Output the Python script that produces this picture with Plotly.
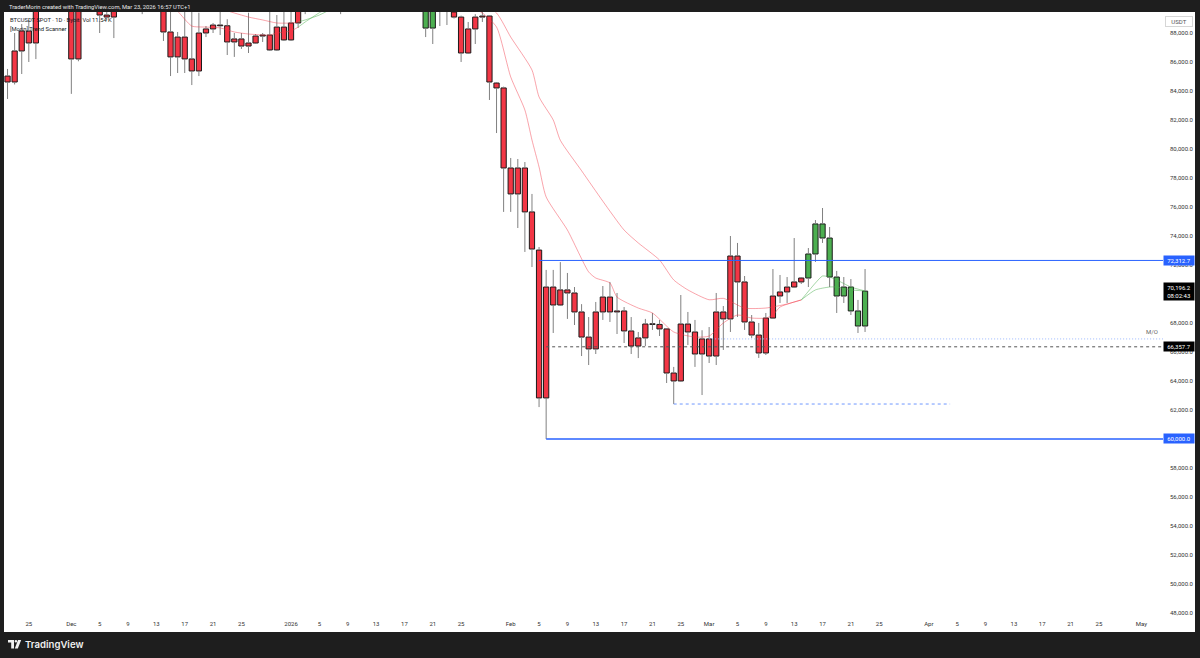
import plotly.graph_objects as go
import pandas as pd

# ---------------- data ----------------
dates = pd.date_range("2025-11-22", "2026-03-23", freq="D").strftime("%Y-%m-%d").tolist()

open_ = [85030, 84620, 86760, 88140, 87310, 90500, 91300, 90900, 90400,
         90400, 86210, 91300, 93400, 92100, 89240, 89100, 90400, 90600, 92700, 92000, 92500, 90300, 90300, 88070,
         86350, 87720, 86210, 85380, 88000, 88280, 88550, 88500, 87380, 87590, 87100, 87310, 87790, 87860, 86830, 88410,
         87520, 88690, 90000, 90600, 91500, 93900, 93700, 91000, 90950, 90500, 90600, 90900, 91100, 95400, 97000, 95600,
         95500, 95100, 93600, 92600, 88340, 89600, 89500, 89450, 89100, 86620, 88280, 89100, 89170, 84550, 84210,
         78690, 76900, 78690, 75660, 73030, 62830, 70480, 69240, 70280, 70070, 68760, 67030, 66210, 68760, 69790, 68760,
         68830, 67450, 66410, 66970, 67930, 67900, 67590, 64550, 64000, 67930, 67380, 65860,
         66900, 65720, 68760, 68280, 72620, 70830, 68070, 67170, 65930, 68340, 69860, 70140, 70480, 70830, 71100, 72760,
         74830, 73860, 71170, 69860, 70480, 68830, 67790]
high = [85520, 88000, 88620, 88900, 90600, 91900, 92900, 91200, 92000,
        90400, 92300, 94100, 94000, 92700, 90300, 91800, 92300, 94600, 94500, 93500, 92700, 90600, 90500, 90000,
        88070, 90400, 89500, 89400, 88480, 88690, 90600, 88950, 88000, 88000, 89400, 87930, 88000, 90300, 89240, 89500,
        89600, 90900, 90700, 91700, 94800, 94400, 93700, 91500, 91900, 90800, 91200, 92400, 96200, 97900, 97200, 95800,
        95600, 95500, 93600, 92800, 90400, 90300, 91100, 89800, 89200, 88760, 89300, 90600, 89200, 84620, 84300,
        79380, 79310, 79100, 76900, 73240, 71660, 71660, 72200, 71450, 70480, 69300, 68410, 69450, 70550, 70830, 70070,
        69100, 68410, 67380, 68280, 68690, 68210, 67600, 64970, 69930, 68760, 68210, 67500,
        67720, 70070, 69170, 74000, 73520, 71240, 68550, 68000, 68690, 71720, 71310, 71170, 73860, 71170, 73170, 75100,
        75930, 74620, 71590, 71170, 71030, 69590, 71720]
low = [83450, 84450, 85170, 86000, 86200, 90100, 90200, 90200, 90300,
       83800, 86050, 91000, 91800, 88000, 88900, 87650, 89600, 89600, 91600, 89300, 89600, 89800, 87450, 85030,
       85240, 85240, 84410, 85030, 87720, 88000, 87860, 86480, 86350, 86900, 86620, 87240, 87380, 86760, 86760, 87450,
       87450, 88350, 89300, 90500, 91400, 91300, 90800, 89300, 89600, 90200, 90200, 90000, 90900, 94800, 95100, 94300,
       94900, 93600, 91900, 87720, 87240, 88480, 88550, 89000, 86000, 86550, 87240, 88760, 83380, 81100, 75660,
       75660, 74550, 72900, 71860, 62200, 60000, 67310, 69170, 68280, 67860, 65720, 65100, 65860, 68210, 68070, 67240,
       66620, 65860, 65580, 66410, 67520, 67100, 63860, 62410, 63930, 66480, 64970, 63030,
       65240, 65100, 66140, 67380, 68410, 67520, 66970, 65590, 65790, 68340, 69380, 69380, 70410, 70690, 70480, 72210,
       73520, 70480, 68690, 69380, 68550, 67310, 67380]
close = [84620, 86760, 88140, 87310, 90500, 91300, 90900, 90400, 90400,
         86210, 91300, 93400, 92100, 89240, 89100, 90400, 90600, 92700, 92000, 92500, 90300, 90300, 88070, 86350,
         87720, 86210, 85380, 88000, 88280, 88550, 88500, 87380, 87590, 87100, 87310, 87790, 87860, 86830, 88410, 87520,
         88690, 90000, 90600, 91500, 93900, 93700, 91000, 90950, 90500, 90600, 90900, 91100, 95400, 97000, 95600, 95500,
         95100, 93600, 92600, 88340, 89600, 89500, 89550, 89100, 86620, 88280, 89100, 89170, 84620, 84210, 78690,
         76900, 78690, 75660, 73100, 62830, 70480, 69240, 70280, 70070, 68760, 67030, 66210, 68760, 69790, 68760, 68830,
         67450, 66410, 66970, 67930, 67900, 67590, 64550, 64000, 67930, 67380, 65860, 66900,
         65720, 68760, 68280, 72620, 70830, 68070, 67170, 65930, 68340, 69860, 70140, 70480, 70830, 71100, 72760, 74830,
         73860, 71170, 69860, 70480, 68830, 67790, 70196.2]
trend = ["r"] * 42 + ["g"] * 21 + ["r"] * 50 + ["g"] * 9

# trend-scanner moving averages
fast_red1_d = ["2025-12-14", "2025-12-16", "2025-12-18", "2025-12-20", "2025-12-22", "2025-12-24", "2025-12-26",
               "2025-12-29", "2025-12-30", "2026-01-01", "2026-01-02"]
fast_red1_v = [90300, 89500, 88480, 88410, 88350, 88070, 87930, 87860, 88000, 88140, 88400]
fast_grn1_d = ["2026-01-02", "2026-01-03", "2026-01-05", "2026-01-08", "2026-01-14", "2026-01-20", "2026-01-24"]
fast_grn1_v = [88400, 88760, 89400, 90300, 93500, 92500, 90500]
fast_red2_d = ["2026-01-24", "2026-01-28", "2026-01-30", "2026-02-01", "2026-02-03", "2026-02-04", "2026-02-05",
               "2026-02-06", "2026-02-09", "2026-02-12", "2026-02-13", "2026-02-15", "2026-02-16", "2026-02-19",
               "2026-02-21", "2026-02-24", "2026-02-27", "2026-03-01", "2026-03-03", "2026-03-05", "2026-03-07",
               "2026-03-09", "2026-03-10", "2026-03-11", "2026-03-14"]
fast_red2_v = [90500, 89380, 88410, 84970, 82690, 80620, 78760, 76690, 74410, 71520, 71100, 70760, 69790, 69030,
               68690, 67380, 67030, 67100, 68000, 68550, 68340, 68340, 68550, 69100, 69590]
fast_grn2_d = ["2026-03-14", "2026-03-16", "2026-03-17", "2026-03-18", "2026-03-19", "2026-03-21", "2026-03-23"]
fast_grn2_v = [69590, 70760, 71240, 71170, 70970, 70480, 70210]

slow_red1_d = ["2025-12-20", "2025-12-24", "2025-12-26", "2025-12-28", "2025-12-30", "2026-01-01", "2026-01-02"]
slow_red1_v = [90000, 89380, 89100, 88900, 88690, 88690, 88760]
slow_grn1_d = ["2026-01-02", "2026-01-03", "2026-01-05", "2026-01-10", "2026-01-18", "2026-01-24"]
slow_grn1_v = [88760, 88900, 89240, 90500, 92500, 91500]
slow_red2_d = ["2026-01-24", "2026-01-30", "2026-02-01", "2026-02-04", "2026-02-05", "2026-02-07", "2026-02-08",
               "2026-02-11", "2026-02-14", "2026-02-17", "2026-02-19", "2026-02-22", "2026-02-24", "2026-02-26",
               "2026-03-01", "2026-03-03", "2026-03-06", "2026-03-09", "2026-03-12", "2026-03-14"]
slow_red2_v = [91500, 89380, 87720, 85450, 83590, 82000, 80600, 78500, 76400, 74410, 73520, 72340, 70970, 70280,
               69600, 69700, 69030, 69030, 69310, 69590]
slow_grn2_d = ["2026-03-14", "2026-03-16", "2026-03-18", "2026-03-19", "2026-03-21", "2026-03-23"]
slow_grn2_v = [69590, 70280, 70480, 70480, 70280, 70210]

# horizontal levels: (value, start date, end date)
level_names = ["res", "close_d", "mo", "low_feb24", "low_feb6"]
level_values = [72312.7, 66357.7, 66900, 62410, 60000]
level_start = ["2026-02-05", "2026-02-06", "2026-03-01", "2026-02-24", "2026-02-06"]
level_end = ["2026-06-01", "2026-06-01", "2026-06-01", "2026-04-04", "2026-06-01"]

# price-scale ticks (60,000 and 70,000 are covered by the badges)
ytick_vals = [48000, 50000, 52000, 54000, 56000, 58000, 62000, 64000, 66000, 68000, 72000, 74000, 76000,
              78000, 80000, 82000, 84000, 86000, 88000]

xtick_dates = ["2025-11-25", "2025-12-01", "2025-12-05", "2025-12-09", "2025-12-13", "2025-12-17", "2025-12-21",
               "2025-12-25", "2026-01-01", "2026-01-05", "2026-01-09", "2026-01-13", "2026-01-17", "2026-01-21",
               "2026-01-25", "2026-02-01", "2026-02-05", "2026-02-09", "2026-02-13", "2026-02-17", "2026-02-21",
               "2026-02-25", "2026-03-01", "2026-03-05", "2026-03-09", "2026-03-13", "2026-03-17", "2026-03-21",
               "2026-03-25", "2026-04-01", "2026-04-05", "2026-04-09", "2026-04-13", "2026-04-17", "2026-04-21",
               "2026-04-25", "2026-05-01"]
xtick_text = ["25", "Dec", "5", "9", "13", "17", "21", "25", "2026", "5", "9", "13", "17", "21", "25", "Feb", "5",
              "9", "13", "17", "21", "25", "Mar", "5", "9", "13", "17", "21", "25", "Apr", "5", "9", "13", "17",
              "21", "25", "May"]

# ---------------- styling / layout helpers ----------------
W, H = 1200, 658
PX_L, PX_R, PY_T, PY_B = 4, 1163, 12, 614
def px(x): return (x - PX_L) / (PX_R - PX_L)
def py(y): return (PY_B - y) / (PY_B - PY_T)

DARK = "#1e1e1e"
RED = "#f23645"
GREEN = "#4caf50"
EDGE = "#1b1b1b"
WICK = "#808080"
BLUE = "#2962ff"
DAY_MS = 86400000

fig = go.Figure()

# wicks (split above/below body so they don't cross the body)
wx, wy = [], []
for d, o, h, l, c in zip(dates, open_, high, low, close):
    top, bot = max(o, c), min(o, c)
    wx += [d, d, None, d, d, None]
    wy += [top, h, None, l, bot, None]
fig.add_trace(go.Scatter(x=wx, y=wy, mode="lines", line=dict(color=WICK, width=1),
                         hoverinfo="skip", showlegend=False))

for key, col in (("r", RED), ("g", GREEN)):
    xs, base, hgt = [], [], []
    for d, o, c, t in zip(dates, open_, close, trend):
        if t != key:
            continue
        xs.append(d)
        base.append(min(o, c))
        hgt.append(max(abs(c - o), 45))
    fig.add_trace(go.Bar(x=xs, y=hgt, base=base, width=[0.74 * DAY_MS] * len(xs),
                         marker=dict(color=col, line=dict(color=EDGE, width=1)),
                         hoverinfo="skip", showlegend=False))

RED_LINE = "rgba(242,54,69,0.45)"
GRN_LINE = "rgba(76,175,80,0.5)"
for dd, vv, col in ((fast_red1_d, fast_red1_v, RED_LINE), (fast_grn1_d, fast_grn1_v, GRN_LINE),
                    (fast_red2_d, fast_red2_v, RED_LINE), (fast_grn2_d, fast_grn2_v, GRN_LINE),
                    (slow_red1_d, slow_red1_v, RED_LINE), (slow_grn1_d, slow_grn1_v, GRN_LINE),
                    (slow_red2_d, slow_red2_v, RED_LINE), (slow_grn2_d, slow_grn2_v, GRN_LINE)):
    fig.add_trace(go.Scatter(x=dd, y=vv, mode="lines", line=dict(color=col, width=1, shape="spline", smoothing=0.6),
                             hoverinfo="skip", showlegend=False))

level_style = {
    "res": dict(color=BLUE, width=1),
    "close_d": dict(color="#555555", width=1, dash="3px,3px"),
    "mo": dict(color="#9bb8ff", width=1, dash="1px,2px"),
    "low_feb24": dict(color="#6f98ff", width=1, dash="3px,3px"),
    "low_feb6": dict(color=BLUE, width=1.6),
}
for name, v, s, e in zip(level_names, level_values, level_start, level_end):
    fig.add_trace(go.Scatter(x=[s, e], y=[v, v], mode="lines", line=level_style[name],
                             hoverinfo="skip", showlegend=False))

# ---------------- layout ----------------
ann = []
ann.append(dict(text="TraderMorin created with TradingView.com, Mar 23, 2026 16:57 UTC+1", xref="paper",
                yref="paper", x=px(7), y=py(6.5), xanchor="left", yanchor="middle", showarrow=False,
                font=dict(family="Roboto", size=5.8, color="#e8e8e8")))
ann.append(dict(text="BTCUSDT SPOT · 1D · Bybit  Vol 11.54 K", xref="paper", yref="paper",
                x=px(8), y=py(19.5), xanchor="left", yanchor="middle", showarrow=False,
                font=dict(family="Roboto", size=5.8, color="#131722")))
ann.append(dict(text="[Morin] Trend Scanner", xref="paper", yref="paper",
                x=px(8), y=py(29), xanchor="left", yanchor="middle", showarrow=False,
                font=dict(family="Roboto", size=5.8, color="#131722")))

def badge(txt, y, bg):
    ann.append(dict(text=txt, xref="paper", yref="y", x=1.0, y=y, xanchor="left", yanchor="middle",
                    xshift=0, showarrow=False, bgcolor=bg, borderpad=1, width=28, align="center",
                    font=dict(family="Roboto", size=6, color="white")))
badge("72,312.7", level_values[0], BLUE)
badge("70,196.2<br>08:02:43", close[-1], "#000000")
badge("66,357.7", level_values[1], "#000000")
badge("60,000.0", level_values[4], BLUE)
ann.append(dict(text="USDT", xref="paper", yref="paper", x=px(1165), y=py(21.5), xanchor="left",
                yanchor="middle", showarrow=False, bordercolor="#d6d6d6", borderwidth=1, borderpad=1,
                width=24, align="center", bgcolor="white", font=dict(family="Roboto", size=6, color="#555")))
ann.append(dict(text="M/O", xref="paper", yref="y", x=px(1160), y=level_values[2], yshift=7,
                xanchor="right", yanchor="middle", showarrow=False,
                font=dict(family="Roboto", size=6, color="#666")))
ann.append(dict(text="TradingView", xref="paper", yref="paper", x=px(23), y=py(644.5), xanchor="left",
                yanchor="middle", showarrow=False,
                font=dict(family="Inter", size=9.6, color="#f0f0f0", weight=600)))

shapes = [
    dict(type="rect", xref="paper", yref="paper", x0=px(4), x1=px(1195), y0=py(12), y1=py(632),
         fillcolor="white", line=dict(width=0), layer="below"),
    dict(type="rect", xref="paper", yref="paper", x0=px(8), x1=px(14), y0=py(640), y1=py(642.5),
         fillcolor="#f0f0f0", line=dict(width=0)),
    dict(type="rect", xref="paper", yref="paper", x0=px(11.2), x1=px(14), y0=py(640), y1=py(648.5),
         fillcolor="#f0f0f0", line=dict(width=0)),
    dict(type="circle", xref="paper", yref="paper", x0=px(14.6), x1=px(17.2), y0=py(640), y1=py(642.6),
         fillcolor="#f0f0f0", line=dict(width=0)),
    dict(type="path", xref="paper", yref="paper",
         path=f"M {px(18)} {py(640)} L {px(21.2)} {py(640)} L {px(17.8)} {py(648.5)} L {px(14.8)} {py(648.5)} Z",
         fillcolor="#f0f0f0", line=dict(width=0)),
]

fig.update_layout(
    width=W, height=H,
    margin=dict(l=PX_L, r=W - PX_R, t=PY_T, b=H - PY_B, pad=0),
    paper_bgcolor=DARK, plot_bgcolor="white",
    barmode="overlay", showlegend=False, hovermode=False,
    annotations=ann, shapes=shapes,
    xaxis=dict(type="date", range=["2025-11-21 12:00", "2026-05-04 01:00"], showgrid=False, zeroline=False,
               tickmode="array", tickvals=xtick_dates, ticktext=xtick_text, ticks="", showline=False,
               tickfont=dict(family="Roboto", size=6, color="#333"), ticklabelstandoff=5, fixedrange=True),
    yaxis=dict(range=[47929, 89448], side="right", showgrid=False, zeroline=False, ticks="", showline=False,
               tickmode="array", tickvals=ytick_vals, tickformat=",.1f",
               tickfont=dict(family="Roboto", size=6, color="#333"), ticklabelstandoff=6, fixedrange=True),
)

fig.write_html("out.html", config={"displayModeBar": False, "staticPlot": True},
               post_script="document.body.style.margin='0px';document.body.style.overflow='hidden';")
